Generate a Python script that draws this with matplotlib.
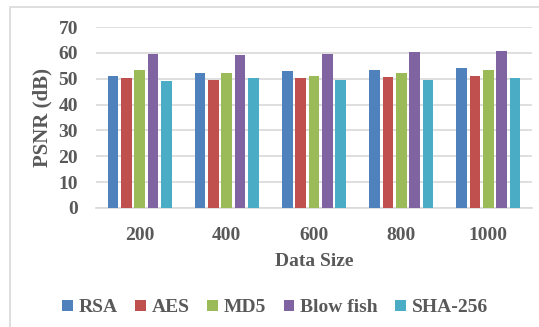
import numpy as np
from matplotlib import pyplot as plt
from matplotlib.patches import Rectangle

sizes = ['200', '400', '600', '800', '1000']
series = ['RSA', 'AES', 'MD5', 'Blow fish', 'SHA-256']
rsa = [50.9, 52.4, 53.0, 53.2, 54.0]
aes = [50.1, 49.4, 50.1, 50.7, 51.2]
md5 = [53.2, 52.2, 51.2, 52.2, 53.2]
blowfish = [59.4, 59.2, 59.7, 60.2, 60.7]
sha256 = [49.1, 50.1, 49.4, 49.4, 50.1]
colors = ['#4f81bd', '#c0504d', '#9bbb59', '#8064a2', '#4bacc6']

txt = '#595959'
font = {'family': 'Liberation Serif', 'weight': 'bold', 'color': txt}

fig = plt.figure(figsize=(5.39, 3.27), dpi=100)
ax = fig.add_axes([96 / 539, 1 - 208 / 327, (532 - 96) / 539, (208 - 27) / 327])

x = np.arange(len(sizes))
slot = 0.153
width = 0.122
for i, vals in enumerate([rsa, aes, md5, blowfish, sha256]):
    ax.bar(x + (i - 2) * slot, vals, width, color=colors[i], label=series[i], zorder=3)

ax.set_xlim(-0.5, len(sizes) - 0.5)
ax.set_ylim(0, 70)
ax.set_yticks(range(0, 71, 10))
ax.grid(axis='y', color='#d9d9d9', linewidth=1.2, zorder=0)
for s in ['top', 'right', 'left']:
    ax.spines[s].set_visible(False)
ax.spines['bottom'].set_color('#d9d9d9')
ax.spines['bottom'].set_linewidth(1.2)
ax.tick_params(length=0)
ax.tick_params(axis='y', pad=13)
ax.tick_params(axis='x', pad=14)
ax.set_xticks(x)
ax.set_xticklabels(sizes)
for lab in ax.get_xticklabels() + ax.get_yticklabels():
    lab.set_fontfamily('Liberation Serif')
    lab.set_fontweight('bold')
    lab.set_fontsize(14)
    lab.set_color(txt)

fig.text(42 / 539, 1 - 117 / 327, 'PSNR (dB)', rotation=90, ha='center', va='center', fontsize=15, **font)
fig.text(314 / 539, 1 - 262 / 327, 'Data Size', ha='center', va='center', fontsize=14, **font)

leg = fig.legend(loc='center', bbox_to_anchor=(275 / 539, 1 - 308 / 327), ncol=5, frameon=False,
                 handlelength=0.55, handleheight=0.55, handletextpad=0.3, columnspacing=0.9,
                 prop={'family': 'Liberation Serif', 'weight': 'bold', 'size': 14})
for t in leg.get_texts():
    t.set_color(txt)

fig.patches.append(Rectangle((10 / 539, -0.1), 1.2, 1 - 7 / 327 + 0.1, transform=fig.transFigure,
                             fill=False, edgecolor='#d9d9d9', linewidth=1.2))

fig.savefig('out.png', dpi=100)
